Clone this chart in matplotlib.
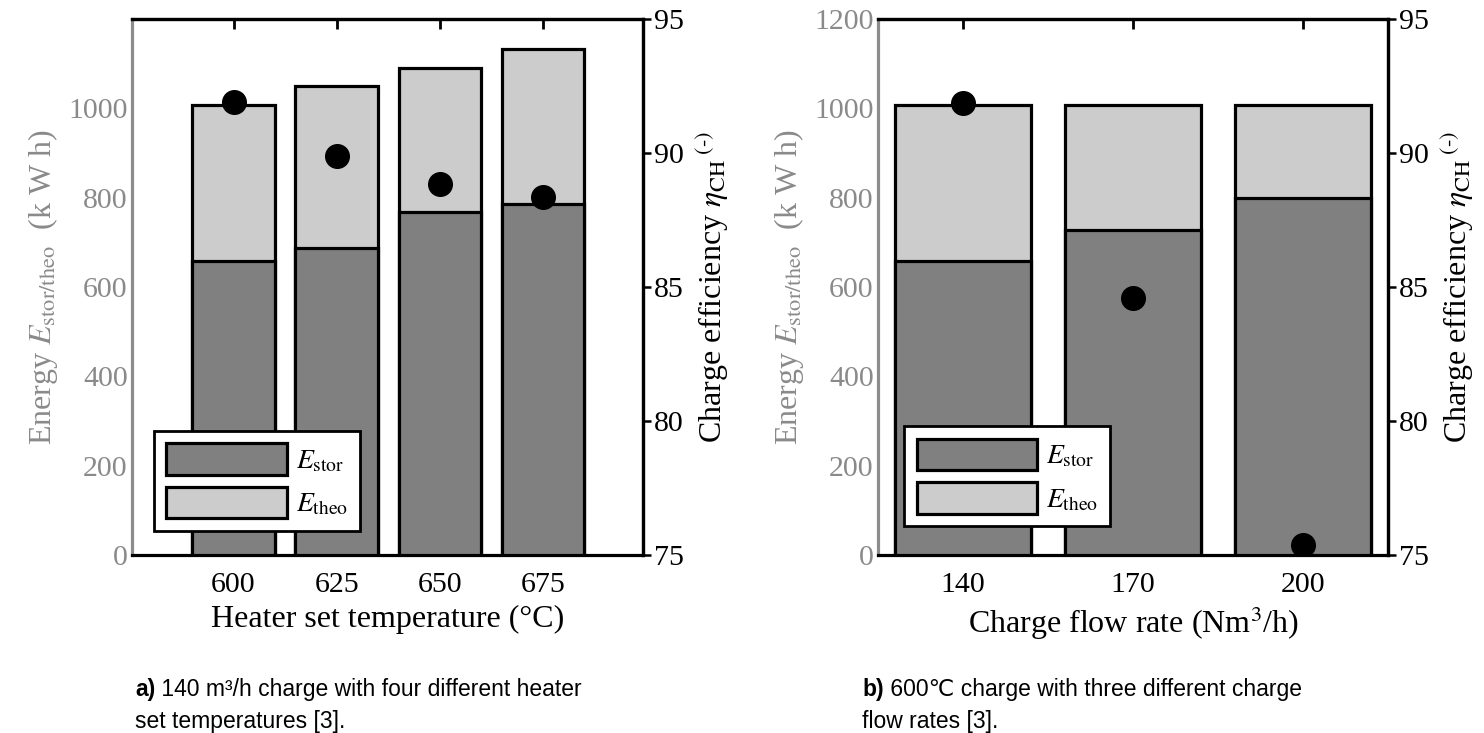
import matplotlib
matplotlib.use("Agg")
import matplotlib.pyplot as plt
from matplotlib.patches import Patch

plt.rcParams['font.family'] = ['Liberation Serif', 'DejaVu Serif']
plt.rcParams['mathtext.fontset'] = 'stix'

# panel a) heater set temperature
temps = [600, 625, 650, 675]
e_theo_a = [1008, 1050, 1090, 1132]
e_stor_a = [659, 687, 767, 785]
eta_a = [91.9, 89.87, 88.84, 88.36]

# panel b) charge flow rate
flows = [140, 170, 200]
e_theo_b = [1008, 1008, 1008]
e_stor_b = [658, 728, 800]
eta_b = [91.85, 84.6, 75.36]

GRAY_TXT = '#8a8a8a'
C_STOR = '#808080'
C_THEO = '#cccccc'
TICK_FS = 21.5
LAB_FS = 23
W, H = 1484, 733


def panel(rect, x, theo, stor, eta, width, xlim, yticks, xlabel, leg_anchor):
    ax = fig.add_axes(rect)
    ax.bar(x, theo, width, color=C_THEO, edgecolor='k', linewidth=2.3, zorder=2)
    ax.bar(x, stor, width, color=C_STOR, edgecolor='k', linewidth=2.3, zorder=3)
    ax.set_xlim(*xlim)
    ax.set_ylim(0, 1200)
    ax.set_xticks(x)
    ax.set_yticks(yticks)
    ax.tick_params(axis='x', top=True, bottom=True, direction='in', length=7, width=2,
                   labelsize=TICK_FS, pad=12)
    ax.tick_params(axis='y', direction='in', length=0, colors=GRAY_TXT,
                   labelsize=TICK_FS, pad=3)
    for s in ['top', 'right', 'bottom']:
        ax.spines[s].set_linewidth(2.3)
    ax.spines['left'].set_color('#8c8c8c')
    ax.spines['left'].set_linewidth(2.3)
    ax.set_xlabel(xlabel, fontsize=LAB_FS, labelpad=5)
    ax.set_ylabel(r'Energy $E_{\mathrm{stor/theo}}$  (k W h)', fontsize=LAB_FS,
                  color=GRAY_TXT, labelpad=6)

    handles = [Patch(facecolor=C_STOR, edgecolor='k', linewidth=2.3),
               Patch(facecolor=C_THEO, edgecolor='k', linewidth=2.3)]
    leg = ax.legend(handles, [r'$E_{\mathrm{stor}}$', r'$E_{\mathrm{theo}}$'],
                    loc='lower left', bbox_to_anchor=leg_anchor, fontsize=20,
                    handlelength=4.35, handleheight=1.37, labelspacing=0.43,
                    handletextpad=0.3, borderpad=0.45, borderaxespad=0,
                    fancybox=False, framealpha=1, edgecolor='k')
    leg.get_frame().set_linewidth(2.0)
    leg.set_zorder(5)

    ax2 = ax.twinx()
    ax2.plot(x, eta, 'o', color='k', markersize=17, zorder=6)
    ax2.set_ylim(75, 95)
    ax2.set_yticks([75, 80, 85, 90, 95])
    ax2.tick_params(axis='y', direction='out', length=6, width=1.8,
                    labelsize=TICK_FS, pad=2)
    ax2.spines['left'].set_visible(False)
    ax2.spines['bottom'].set_visible(False)
    ax2.spines['right'].set_linewidth(2.3)
    ax2.spines['top'].set_linewidth(2.3)
    ax2.set_ylabel(r'Charge efficiency $\eta_{\mathrm{CH}}{}^{\;(\text{-})}$',
                   fontsize=LAB_FS, labelpad=6)
    return ax, ax2


fig = plt.figure(figsize=(W / 100, H / 100), dpi=100)

top, bot = 19, 555
hgt = (bot - top) / H
panel([132 / W, 1 - bot / H, (643 - 132) / W, hgt], temps, e_theo_a, e_stor_a, eta_a,
      20, (575.4, 699.2), [0, 200, 400, 600, 800, 1000],
      'Heater set temperature (\u00b0C)', (0.043, 0.045))
panel([878 / W, 1 - bot / H, (1388 - 878) / W, hgt], flows, e_theo_b, e_stor_b, eta_b,
      24, (125, 215), [0, 200, 400, 600, 800, 1000, 1200],
      r'Charge flow rate (Nm$^3$/h)', (0.051, 0.054))

# captions
cap_fam = ['Liberation Sans', 'DejaVu Sans']
captions = [(135, 'a)', ' 140 m\u00b3/h charge with four different heater', 'set temperatures [3].'),
            (862, 'b)', ' 600\u2103 charge with three different charge', 'flow rates [3].')]
for xpx, lab, line1, line2 in captions:
    t = fig.text(xpx / W, 1 - 696 / H, lab, fontsize=16.5, fontweight='bold',
                 family=cap_fam, va='baseline', ha='left')
    fig.axes[0].annotate(line1, xy=(1, 0), xycoords=t, va='bottom', ha='left',
                         fontsize=16.5, family=cap_fam, annotation_clip=False)
    fig.text(xpx / W, 1 - 728 / H, line2, fontsize=16.5, family=cap_fam,
             va='baseline', ha='left')

fig.savefig('out.png', dpi=100)
